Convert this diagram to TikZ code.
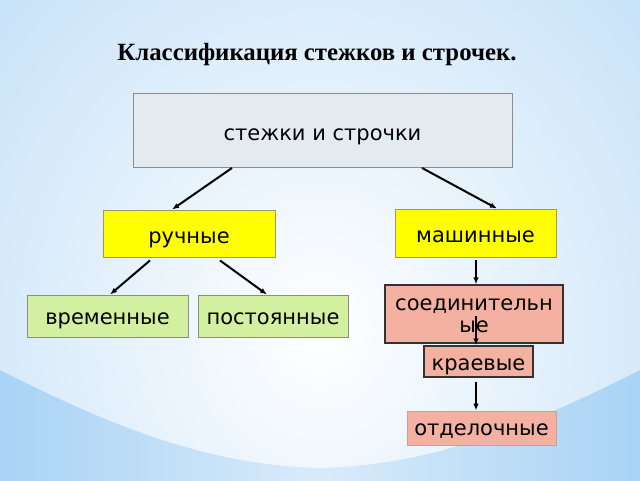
\documentclass[tikz,border=0pt]{standalone}
\usepackage{fontspec}
\setmainfont{Liberation Serif}
\newfontfamily\boxfont{DejaVu Sans}
\usetikzlibrary{arrows.meta}
\definecolor{bgblue}{HTML}{A9D3F5}
\definecolor{topfill}{HTML}{E3EBF1}
\definecolor{yel}{HTML}{FFFF00}
\definecolor{grn}{HTML}{D2F0A0}
\definecolor{salm}{HTML}{F4B0A0}
\newcommand\lowtxt[2]{\raisebox{-#1}[0pt][0pt]{#2}}
\tikzset{
  box/.style={draw, line width=0.9pt, inner sep=0pt, align=center, font=\boxfont\fontsize{21}{22}\selectfont, text=black},
  topbox/.style={box, fill=topfill, draw=black!45},
  yelbox/.style={box, fill=yel, draw=black!40!yellow!60!gray},
  grnbox/.style={box, fill=grn, draw=black!45},
  salbox/.style={box, fill=salm, draw=black!80, line width=1.2pt},
  salboxl/.style={box, fill=salm, draw=salm!80!black!60!salm},
  arr/.style={-{Latex[length=7pt,width=5.5pt]}, line width=2pt, black}
}
\begin{document}
\begin{tikzpicture}[x=1pt,y=-1pt]
\useasboundingbox (0,0) rectangle (640,480);
% background
\fill[bgblue] (0,0) rectangle (640,480);
\shade[left color=bgblue, right color=bgblue, middle color=white!55!bgblue] (0,370) rectangle (640,480);
\begin{scope}
\clip (0,0) -- (640,0) -- (640,370) .. controls (540,420) and (440,465) .. (320,468) .. controls (200,465) and (100,420) .. (0,370) -- cycle;
\shade[inner color=white, outer color=bgblue] (320,330) ellipse [x radius=680, y radius=760];
\end{scope}
% title
\node[font=\bfseries\fontsize{24.8}{26}\selectfont] (title) at (317,55) {Классификация стежков и строчек.};
% boxes
\node[topbox, minimum width=379pt, minimum height=74pt] (top) at (322.5,130.5) {\lowtxt{10pt}{стежки и строчки}};
\node[yelbox, minimum width=172pt, minimum height=47pt] (ruch) at (189,233.5) {\lowtxt{9.7pt}{ручные}};
\node[yelbox, minimum width=161pt, minimum height=48pt] (mash) at (475.5,233) {\lowtxt{9.7pt}{машинные}};
\node[grnbox, minimum width=161pt, minimum height=42pt] (vrem) at (107.5,316) {\lowtxt{8.5pt}{временные}};
\node[grnbox, minimum width=150pt, minimum height=42pt] (post) at (273,316) {\lowtxt{8.5pt}{постоянные}};
\node[salbox, minimum width=178pt, minimum height=58pt] (soed) at (474,314) {\raisebox{4pt}[0pt][0pt]{\begin{tabular}[t]{@{}c@{}}соединительн\\ые\end{tabular}}};
\node[salbox, minimum width=109pt, minimum height=31pt] (krae) at (478.5,361.5) {\lowtxt{8.8pt}{краевые}};
\node[salboxl, minimum width=149pt, minimum height=34pt] (otdel) at (481.5,428) {\lowtxt{7pt}{отделочные}};
% connectors
\draw[arr] ([xshift=-90.5pt]top.south) -- ([xshift=-17pt]ruch.north);
\draw[arr] ([xshift=99.5pt]top.south) -- ([xshift=21.5pt]mash.north);
\draw[arr] ([xshift=-39pt,yshift=-3pt]ruch.south) -- ([xshift=2.5pt]vrem.north);
\draw[arr] ([xshift=31pt,yshift=-3pt]ruch.south) -- ([xshift=-6pt]post.north);
\draw[arr] ([xshift=0.5pt,yshift=-3pt]mash.south) -- ([xshift=0.5pt]mash.south |- soed.north);
\coordinate (soedmid) at ([xshift=2pt,yshift=-2pt]soed.center);
\draw[arr] (soedmid) -- (soedmid |- krae.north);
\draw[arr] ([xshift=-2.5pt,yshift=-4pt]krae.south) -- ([xshift=-2.5pt]krae.south |- otdel.north);
\end{tikzpicture}
\end{document}
